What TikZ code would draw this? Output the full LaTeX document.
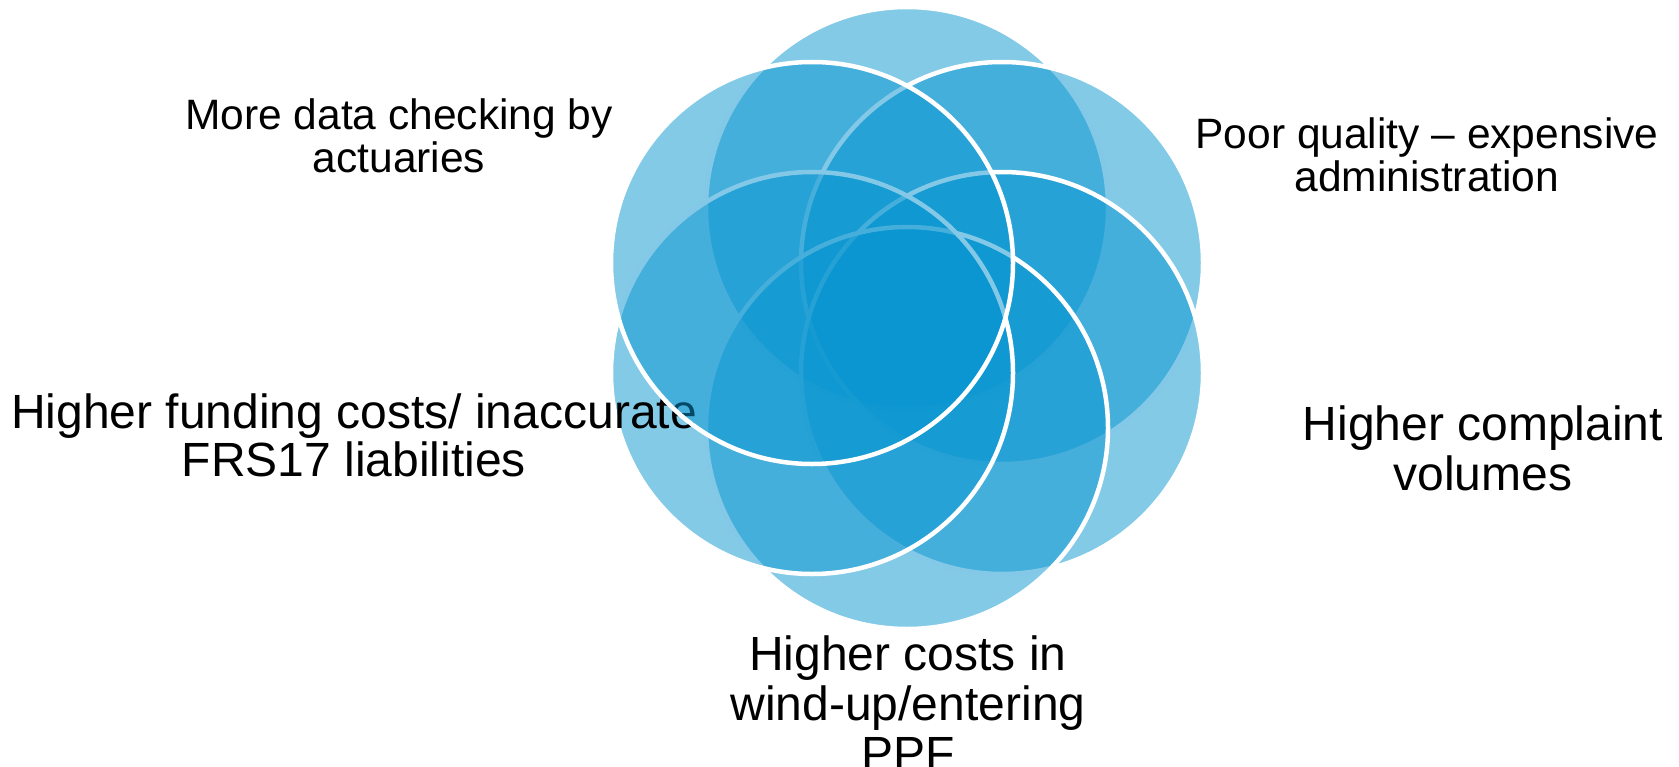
\documentclass[tikz,border=0pt]{standalone}
\usepackage{fontspec}
\usepackage{tikz}
\usetikzlibrary{shapes.geometric}
\setmainfont{Liberation Sans}
\definecolor{petal}{RGB}{8,149,208}

\tikzset{
  petal/.style={draw=white, line width=4.5bp, fill=petal, fill opacity=0.5,
    circle, inner sep=0pt, minimum size=402bp},
  effect/.style={align=center, inner sep=0pt, text=black},
}

\begin{document}
\begin{tikzpicture}[x=1bp, y=-1bp]
\useasboundingbox (0,0) rectangle (1679,767);
% petals clockwise from the top, each followed by its effect
\node[petal] (pT)  at (907,208) {};
\node[petal] (pUR) at (1002,263) {};
\node[effect, font=\fontsize{42.5bp}{43bp}\selectfont] (eAdmin) at (1427,155) {Poor quality -- expensive\\administration};
\node[petal] (pLR) at (1002,373) {};
\node[effect, font=\fontsize{48bp}{50bp}\selectfont] (eComplaint) at (1483,448) {Higher complaint\\volumes};
\node[petal] (pB)  at (907,428) {};
\node[effect, font=\fontsize{48bp}{50bp}\selectfont] (eWindup) at (908,703) {Higher costs in\\wind-up/entering\\PPF};
\node[petal] (pLL) at (812,373) {};
\node[effect, font=\fontsize{48bp}{48bp}\selectfont] (eFunding) at (354,435) {Higher funding costs/ inaccurate\\FRS17 liabilities};
\node[petal] (pUL) at (812,263) {};
\node[effect, font=\fontsize{42.5bp}{43bp}\selectfont] (eData) at (399,136) {More data checking by\\actuaries};
\end{tikzpicture}
\end{document}
